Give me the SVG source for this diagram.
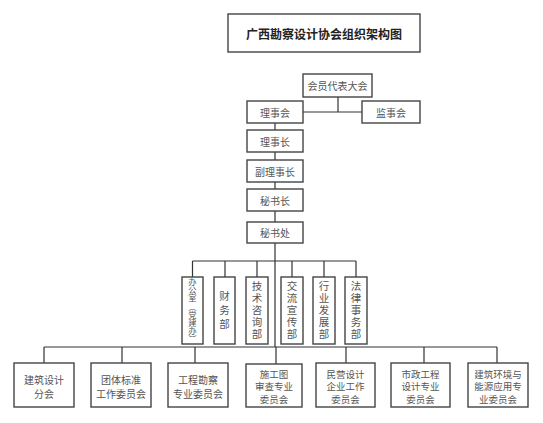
<svg xmlns="http://www.w3.org/2000/svg" width="543" height="423" viewBox="0 0 543 423">
<style>
.bx{fill:#fff;stroke:#444;stroke-width:1.4}
.ln{fill:none;stroke:#333;stroke-width:1.2}
.t{font-family:"Noto Sans CJK SC","Noto Sans",sans-serif;font-size:10px;fill:#555;text-anchor:middle;dominant-baseline:central}
.t3{font-size:9.5px}
.v{font-family:"Noto Sans CJK SC","Noto Sans",sans-serif;font-size:10.5px;fill:#555;text-anchor:middle;writing-mode:vertical-rl}
.title{font-family:"Noto Sans CJK SC","Noto Sans",sans-serif;font-size:12px;font-weight:bold;fill:#222;text-anchor:middle;dominant-baseline:central}
</style>
<rect width="543" height="423" fill="#fff"/>
<g id="title"><rect class="bx" x="228" y="14" width="192" height="38"/><text class="title" x="324" y="33">广西勘察设计协会组织架构图</text></g>
<g id="connectors">
<path class="ln" d="M338 97V112M303 112H362"/>
<path class="ln" d="M275 123V130M275 152V160M275 182V189M275 211V222M275 243V347"/>
<path class="ln" d="M192.5 261H356M192.5 261V277M225 261V277M257 261V277M292 261V277M324 261V277M356 261V277"/>
<path class="ln" d="M44 347H497M44 347V363M122 347V363M195 347V363M276 347V364M346 347V363M424 347V363M497 347V363"/>
</g>
<g id="n_hydb"><rect class="bx" x="303" y="74" width="69" height="23"/><text class="t" x="337.5" y="85.5">会员代表大会</text></g>
<g id="n_lsh"><rect class="bx" x="247" y="101" width="56" height="22"/><text class="t" x="275" y="112">理事会</text></g>
<g id="n_jsh"><rect class="bx" x="362" y="101" width="58" height="22"/><text class="t" x="391" y="112">监事会</text></g>
<g id="n_lsz"><rect class="bx" x="247" y="130" width="56" height="22"/><text class="t" x="275" y="141">理事长</text></g>
<g id="n_flsz"><rect class="bx" x="247" y="160" width="56" height="22"/><text class="t" x="275" y="171">副理事长</text></g>
<g id="n_msz"><rect class="bx" x="247" y="189" width="56" height="22"/><text class="t" x="275" y="200">秘书长</text></g>
<g id="n_msc"><rect class="bx" x="247" y="222" width="56" height="21"/><text class="t" x="275" y="232.5">秘书处</text></g>
<g id="d1"><rect class="bx" x="182" y="277" width="21" height="67"/><text class="v" x="192.5" y="310.5" style="font-size:8.3px;letter-spacing:-0.1px">办公室（党建办）</text></g>
<g id="d2"><rect class="bx" x="214" y="277" width="21" height="67"/><text class="v" x="224.5" y="312" style="letter-spacing:3.5px">财务部</text></g>
<g id="d3"><rect class="bx" x="246" y="277" width="22" height="67"/><text class="v" x="257" y="311" style="letter-spacing:1.5px">技术咨询部</text></g>
<g id="d4"><rect class="bx" x="281" y="277" width="22" height="67"/><text class="v" x="292" y="311" style="letter-spacing:1.5px">交流宣传部</text></g>
<g id="d5"><rect class="bx" x="313" y="277" width="22" height="67"/><text class="v" x="324" y="311" style="letter-spacing:1.5px">行业发展部</text></g>
<g id="d6"><rect class="bx" x="345" y="277" width="22" height="67"/><text class="v" x="356" y="311" style="letter-spacing:1.5px">法律事务部</text></g>
<g id="b1"><rect class="bx" x="14" y="363" width="60" height="44"/><text class="t"><tspan x="44" y="379">建筑设计</tspan><tspan x="44" y="393">分会</tspan></text></g>
<g id="b2"><rect class="bx" x="91" y="363" width="60" height="44"/><text class="t"><tspan x="121" y="379">团体标准</tspan><tspan x="121" y="393">工作委员会</tspan></text></g>
<g id="b3"><rect class="bx" x="168" y="363" width="60" height="44"/><text class="t"><tspan x="198" y="379">工程勘察</tspan><tspan x="198" y="393">专业委员会</tspan></text></g>
<g id="b4"><rect class="bx" x="246" y="364" width="56" height="43"/><text class="t t3"><tspan x="274" y="373.5">施工图</tspan><tspan x="274" y="386">审查专业</tspan><tspan x="274" y="398.5">委员会</tspan></text></g>
<g id="b5"><rect class="bx" x="316" y="363" width="59" height="44"/><text class="t t3"><tspan x="345.5" y="373.5">民营设计</tspan><tspan x="345.5" y="386">企业工作</tspan><tspan x="345.5" y="398.5">委员会</tspan></text></g>
<g id="b6"><rect class="bx" x="391" y="363" width="59" height="44"/><text class="t t3"><tspan x="420.5" y="373.5">市政工程</tspan><tspan x="420.5" y="386">设计专业</tspan><tspan x="420.5" y="398.5">委员会</tspan></text></g>
<g id="b7"><rect class="bx" x="468" y="363" width="60" height="44"/><text class="t t3"><tspan x="498" y="373.5">建筑环境与</tspan><tspan x="498" y="386">能源应用专</tspan><tspan x="498" y="398.5">业委员会</tspan></text></g>
</svg>
